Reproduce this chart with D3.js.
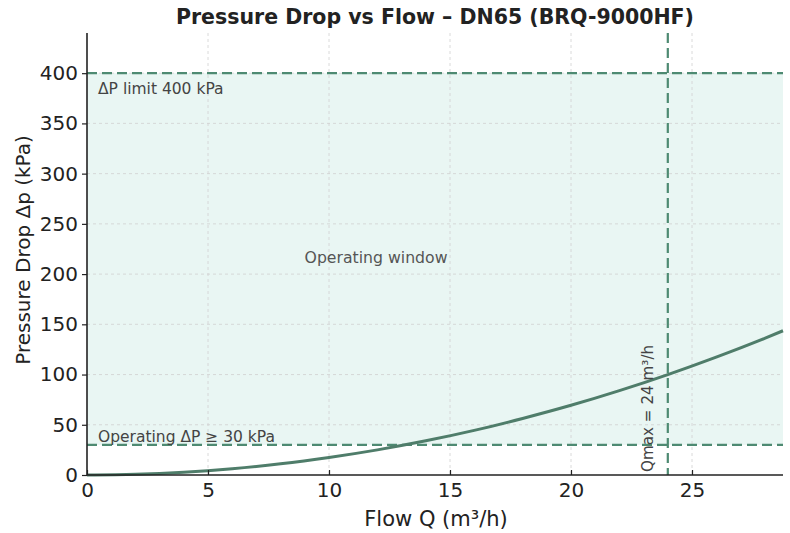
<!DOCTYPE html>
<html><head><meta charset="utf-8">
<script src="https://cdn.jsdelivr.net/npm/d3@7"></script>
<style>body{margin:0;background:#fff}text{font-family:"DejaVu Sans",sans-serif}</style>
</head><body>
<svg id="c" width="790" height="533"></svg>
<script>
const flowQ = [0, 2, 4, 6, 8, 10, 12, 14, 16, 18, 20, 22, 24, 26, 28, 28.76];
const dropP = [0, 0.7, 2.8, 6.3, 11.1, 17.4, 25.0, 34.0, 44.4, 56.3, 69.4, 84.0, 100, 117.4, 136.1, 143.6];
const xTicks = [0, 5, 10, 15, 20, 25];
const yTicks = [0, 50, 100, 150, 200, 250, 300, 350, 400];
const limitHigh = 400, limitLow = 30, qMax = 24;
const xDomain = [0, 28.76], yDomain = [0, 440];

const svg = d3.select("#c");
const L = 87, R = 783, T = 33, B = 475;
const x = d3.scaleLinear().domain(xDomain).range([L, R]);
const y = d3.scaleLinear().domain(yDomain).range([B, T]);
const green = "#4e8a72", curveCol = "#4f7d6a";

svg.append("rect").attr("x", x(0)).attr("y", y(limitHigh))
  .attr("width", x(xDomain[1]) - x(0)).attr("height", y(limitLow) - y(limitHigh))
  .attr("fill", "#e9f6f3");

svg.append("g").selectAll("line").data(xTicks.slice(1)).join("line")
  .attr("x1", d => x(d)).attr("x2", d => x(d)).attr("y1", T).attr("y2", B)
  .attr("stroke", "#d0d0d0").attr("stroke-width", 0.8).attr("stroke-dasharray", "3,3");
svg.append("g").selectAll("line").data(yTicks.slice(1)).join("line")
  .attr("x1", L).attr("x2", R).attr("y1", d => y(d)).attr("y2", d => y(d))
  .attr("stroke", "#d0d0d0").attr("stroke-width", 0.8).attr("stroke-dasharray", "3,3");

svg.append("line").attr("x1", L).attr("x2", R).attr("y1", y(limitHigh)).attr("y2", y(limitHigh))
  .attr("stroke", green).attr("stroke-width", 2.2).attr("stroke-dasharray", "10,5");
svg.append("line").attr("x1", L).attr("x2", R).attr("y1", y(limitLow)).attr("y2", y(limitLow))
  .attr("stroke", green).attr("stroke-width", 2.2).attr("stroke-dasharray", "10,5");
svg.append("line").attr("x1", x(qMax)).attr("x2", x(qMax)).attr("y1", T).attr("y2", B)
  .attr("stroke", green).attr("stroke-width", 2.2).attr("stroke-dasharray", "10,5");

const pts = flowQ.map((q, i) => [q, dropP[i]]);
svg.append("path").datum(pts)
  .attr("d", d3.line().x(d => x(d[0])).y(d => y(d[1])).curve(d3.curveMonotoneX))
  .attr("fill", "none").attr("stroke", curveCol).attr("stroke-width", 3);

const xa = svg.append("g").attr("transform", `translate(0,${B})`)
  .call(d3.axisBottom(x).tickValues(xTicks).tickSizeInner(-5).tickSizeOuter(0).tickPadding(8));
const ya = svg.append("g").attr("transform", `translate(${L},0)`)
  .call(d3.axisLeft(y).tickValues(yTicks).tickSizeInner(5).tickSizeOuter(0).tickPadding(4));
[xa, ya].forEach(a => {
  a.select(".domain").attr("stroke", "#222").attr("stroke-width", 1.6);
  a.selectAll(".tick line").attr("stroke", "#222").attr("stroke-width", 1.2);
  a.selectAll(".tick text").attr("font-size", 20).attr("fill", "#222");
});
xa.selectAll(".tick text").attr("dy", "0.71em");
xa.select(".domain").attr("d", `M${L},0H${R}`);
ya.select(".domain").attr("d", `M0,${B}V${T}`);

svg.append("text").attr("x", 435).attr("y", 24).attr("text-anchor", "middle")
  .attr("font-size", 20.5).attr("font-weight", "bold").attr("fill", "#222")
  .text("Pressure Drop vs Flow – DN65 (BRQ-9000HF)");
svg.append("text").attr("x", 436).attr("y", 526).attr("text-anchor", "middle")
  .attr("font-size", 21).attr("fill", "#222").text("Flow Q (m³/h)");
svg.append("text").attr("transform", `translate(30,250) rotate(-90)`)
  .attr("text-anchor", "middle").attr("font-size", 20).attr("fill", "#222")
  .text("Pressure Drop Δp (kPa)");

svg.append("text").attr("x", 98).attr("y", 94).attr("font-size", 15.5).attr("fill", "#444")
  .text("ΔP limit 400 kPa");
svg.append("text").attr("x", 98).attr("y", 442).attr("font-size", 15.5).attr("fill", "#444")
  .text("Operating ΔP ≥ 30 kPa");
svg.append("text").attr("x", 376).attr("y", 263).attr("text-anchor", "middle")
  .attr("font-size", 15.7).attr("fill", "#555").text("Operating window");
svg.append("text").attr("transform", `translate(653,472) rotate(-90)`)
  .attr("font-size", 15.2).attr("fill", "#444").text("Qmax = 24 m³/h");
</script>
</body></html>
